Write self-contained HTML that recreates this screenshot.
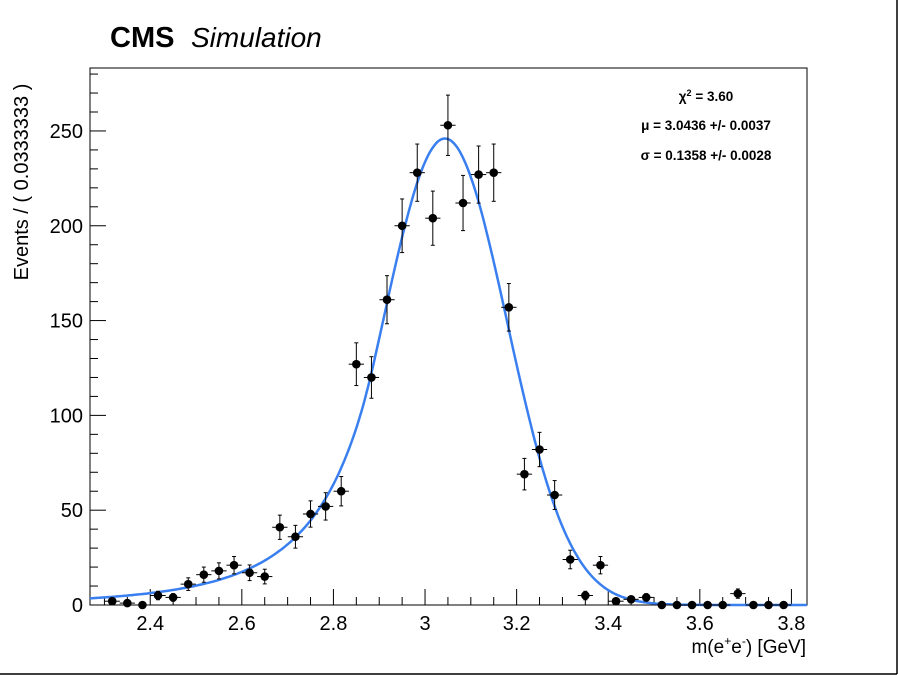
<!DOCTYPE html>
<html><head><meta charset="utf-8"><style>
body{margin:0;background:#fff;}
svg{display:block;font-family:"Liberation Sans",Arial,sans-serif;}
</style></head><body>
<svg id="c" width="898" height="675">
<line x1="897" y1="0" x2="897" y2="674" stroke="#000" stroke-width="1.5"/>
<line x1="0" y1="674" x2="897" y2="674" stroke="#000" stroke-width="1.5"/>
<text x="110" y="47" font-size="29" font-weight="bold">CMS</text>
<text x="191" y="47" font-size="28" font-style="italic">Simulation</text>
<rect x="90" y="68" width="717" height="537" fill="none" stroke="#000" stroke-width="1"/>
<text transform="translate(28,182) rotate(-90)" text-anchor="middle" font-size="20">Events / ( 0.0333333 )</text>
<text x="806" y="653" text-anchor="end" font-size="19">m(e<tspan font-size="12" dy="-8">+</tspan><tspan dy="8">e</tspan><tspan font-size="12" dy="-8">-</tspan><tspan dy="8">) [GeV]</tspan></text>
<g font-size="13.5" font-weight="bold" text-anchor="middle">
<text x="706" y="101">χ<tspan font-size="9" dy="-5">2</tspan><tspan dy="5"> = 3.60</tspan></text>
<text x="706" y="130">μ = 3.0436 +/- 0.0037</text>
<text x="706" y="160">σ = 0.1358 +/- 0.0028</text>
</g>
<g id="axes"></g>
<g id="curve"></g>
<g id="pts"></g>
</svg>
<script>
const xCenters=[2.317,2.35,2.383,2.417,2.45,2.483,2.517,2.55,2.583,2.617,2.65,2.683,2.717,2.75,2.783,2.817,2.85,2.883,2.917,2.95,2.983,3.017,3.05,3.083,3.117,3.15,3.183,3.217,3.25,3.283,3.317,3.35,3.383,3.417,3.45,3.483,3.517,3.55,3.583,3.617,3.65,3.683,3.717,3.75,3.783];
const counts=[2,1,0,5,4,11,16,18,21,17,15,41,36,48,52,60,127,120,161,200,228,204,253,212,227,228,157,69,82,58,24,5,21,2,3,4,0,0,0,0,0,6,0,0,0];
const xTicks=[2.4,2.6,2.8,3,3.2,3.4,3.6,3.8];
const yTicks=[0,50,100,150,200,250];
const fitMu=[3.0436];
const fitSigma=[0.1358];
const fitPeak=[246];
const NS="http://www.w3.org/2000/svg";
const X0=2.2685,X1=3.834,PL=90,PR=807,PT=68,PB=605,YMAX=283.2;
const sx=v=>PL+(v-X0)/(X1-X0)*(PR-PL);
const sy=v=>PB-v/YMAX*(PB-PT);
function mk(t,a,p){const e=document.createElementNS(NS,t);for(const k in a)e.setAttribute(k,a[k]);p.appendChild(e);return e;}
const ax=document.getElementById('axes');
for(let v=2.3;v<=3.83;v+=0.05){const x=sx(v);const maj=Math.abs(v*5-Math.round(v*5))<1e-6;
 const l=mk('line',{x1:x,x2:x,y1:PB,y2:PB-(maj?16:8),stroke:'#000'},ax);
 
 }
xTicks.forEach(v=>{const t=mk('text',{x:sx(v),y:PB+25,'text-anchor':'middle','font-size':20},ax);t.textContent=String(v);
 
 });
for(let v=0;v<=280;v+=10){const y=sy(v);const maj=v%50===0;
 const l=mk('line',{x1:PL,x2:PL+(maj?16:8),y1:y,y2:y,stroke:'#000'},ax);
 
 }
yTicks.forEach(v=>{const t=mk('text',{x:83,y:sy(v)+7,'text-anchor':'end','font-size':20},ax);t.textContent=String(v);
 
 });
// Crystal Ball curve
const al=1.15,n=5,A=Math.pow(n/al,n)*Math.exp(-al*al/2),B=n/al-al;
function cb(x){const t=(x-fitMu[0])/fitSigma[0];return fitPeak[0]*(t>-al?Math.exp(-t*t/2):A*Math.pow(B-t,-n));}
let d='';for(let i=0;i<=400;i++){const x=X0+(X1-X0)*i/400;d+=(i?'L':'M')+sx(x).toFixed(1)+','+sy(cb(x)).toFixed(1);}
const cv=mk('path',{d:d,fill:'none',stroke:'#3a7ff0','stroke-width':2.5},document.getElementById('curve'));


const pg=document.getElementById('pts');
const hw=(1/30)/2;
xCenters.forEach((xc,i)=>{const c=counts[i];const g=mk('g',{},pg);
 
 
 const x=sx(xc),y=sy(c);
 mk('line',{x1:sx(xc-hw),x2:sx(xc+hw),y1:y,y2:y,stroke:'#000'},g);
 if(c>0){const e=Math.sqrt(c);mk('line',{x1:x,x2:x,y1:sy(c+e),y2:sy(Math.max(c-e,0)),stroke:'#000'},g);
  mk('line',{x1:x-2,x2:x+2,y1:sy(c+e),y2:sy(c+e),stroke:'#000'},g);
  mk('line',{x1:x-2,x2:x+2,y1:sy(c-e),y2:sy(c-e),stroke:'#000'},g);}
 mk('circle',{cx:x,cy:y,r:4.3,fill:'#000'},g);});
</script>
</body></html>
